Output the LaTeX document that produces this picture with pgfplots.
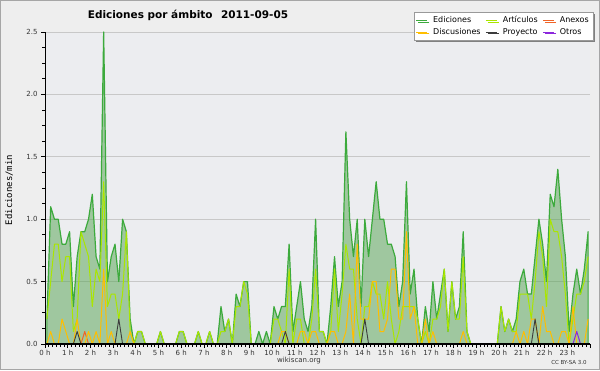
\documentclass[border=0pt]{standalone}
\usepackage{pgfplots}
\usepackage{pgfplotstable}
\pgfplotsset{compat=1.18}
\usepackage{fontspec}
\setmainfont{DejaVu Sans}
\setmonofont{DejaVu Sans Mono}
\usetikzlibrary{shadows}
\definecolor{bgout}{RGB}{238,238,238}
\definecolor{bgplot}{RGB}{236,237,240}
\definecolor{edline}{RGB}{60,170,60}
\definecolor{edfill}{RGB}{84,163,80}
\definecolor{artc}{RGB}{170,230,0}
\definecolor{disc}{RGB}{255,190,0}
\definecolor{proy}{RGB}{60,60,60}
\definecolor{anex}{RGB}{240,100,40}
\definecolor{otro}{RGB}{140,40,220}
\definecolor{gridc}{RGB}{200,200,200}

\pgfplotsset{
  layers/mylayers/.define layer set={axis background,axis grid,main,axis ticks,axis lines,axis tick labels,axis descriptions,axis foreground}{},
}

% 10-minute intervals, rows 0..143
\pgfplotstableread{
E A D P X O
0.2 0.2 0 0 0 0
1.1 0.5 0.1 0 0 0
1.0 0.8 0 0 0 0
1.0 0.8 0 0 0 0
0.8 0.5 0.2 0 0 0
0.8 0.7 0.1 0 0 0
0.9 0.7 0 0 0 0
0.3 0.1 0 0 0 0
0.7 0.2 0.2 0.1 0 0
0.9 0.9 0 0 0 0
0.9 0.8 0 0 0.1 0
1.0 0.7 0.1 0 0 0
1.2 0.3 0 0 0 0
0.7 0.6 0.1 0 0 0
0.6 0.5 0 0 0 0
2.5 1.3 0.6 0 0 0
0.5 0.3 0 0 0 0
0.7 0.4 0.1 0 0 0
0.8 0.4 0 0 0 0
0.5 0.2 0 0.2 0 0
1.0 0.4 0 0 0 0
0.9 0.9 0 0 0 0
0.2 0.1 0.1 0 0 0
0 0 0 0 0 0
0.1 0.1 0 0 0 0
0.1 0.1 0 0 0 0
0 0 0 0 0 0
0 0 0 0 0 0
0 0 0 0 0 0
0 0 0 0 0 0
0.1 0.1 0 0 0 0
0 0 0 0 0 0
0 0 0 0 0 0
0 0 0 0 0 0
0 0 0 0 0 0
0.1 0.1 0 0 0 0
0.1 0.1 0 0 0 0
0 0 0 0 0 0
0 0 0 0 0 0
0 0 0 0 0 0
0.1 0.1 0 0 0 0
0 0 0 0 0 0
0 0 0 0 0 0
0.1 0.1 0 0 0 0
0 0 0 0 0 0
0 0 0 0 0 0
0.3 0.1 0 0 0 0
0.1 0.1 0 0 0 0
0.2 0.2 0 0 0 0
0 0 0 0 0 0
0.4 0.3 0 0 0 0
0.3 0.3 0 0 0 0
0.5 0.5 0 0 0 0
0.5 0.4 0 0 0 0
0 0 0 0 0 0
0 0 0 0 0 0
0.1 0 0 0 0 0
0 0 0 0 0 0
0.1 0 0 0 0 0
0 0 0 0 0 0
0.3 0.2 0 0 0 0
0.2 0.2 0 0 0 0
0.3 0.1 0.1 0 0 0
0.3 0 0.1 0.1 0 0
0.8 0.6 0 0 0 0
0.1 0 0 0 0 0
0.3 0.2 0 0 0 0
0.5 0.2 0.1 0 0 0
0.2 0 0.1 0 0 0
0.1 0 0 0 0 0
0.3 0.2 0.1 0 0 0
1.0 0.6 0.1 0 0 0
0.1 0.1 0 0 0 0
0.1 0.1 0 0 0 0
0 0 0 0 0 0
0.3 0.1 0.1 0 0 0
0.7 0.6 0.1 0 0 0
0.3 0.1 0 0 0 0
0.5 0.4 0 0 0 0
1.7 0.8 0.1 0 0 0
1.0 0.6 0.4 0 0 0
0.7 0.6 0 0 0 0
1.0 0.2 0.8 0 0 0
0.3 0 0.2 0 0 0
1.0 0.3 0.2 0.2 0 0
0.7 0.3 0.2 0 0 0
1.0 0.5 0.5 0 0 0
1.3 0.4 0.5 0 0 0
1.0 0.4 0.1 0 0 0
1.0 0.2 0.1 0 0 0
0.8 0.5 0.2 0 0 0
0.8 0.2 0.6 0 0 0
0.7 0 0.6 0 0 0
0.3 0.1 0.2 0 0 0
0.5 0.3 0.2 0 0 0
1.3 0.3 0.9 0 0 0
0.4 0.3 0.2 0 0 0
0.6 0.3 0.3 0 0 0
0.2 0.2 0 0 0 0
0 0 0 0 0 0
0.3 0.1 0.2 0 0 0
0.1 0 0 0 0 0
0.5 0.2 0.1 0 0 0
0.2 0.2 0 0 0 0
0.4 0.3 0 0 0 0
0.6 0.6 0 0 0 0
0.1 0.1 0 0 0 0
0.5 0.5 0 0 0 0
0.2 0.2 0 0 0 0
0.3 0.2 0 0 0 0
0.9 0.7 0.1 0 0 0
0.1 0.1 0 0 0 0
0 0 0 0 0 0
0 0 0 0 0 0
0 0 0 0 0 0
0 0 0 0 0 0
0 0 0 0 0 0
0 0 0 0 0 0
0 0 0 0 0 0
0 0 0 0 0 0
0.3 0.3 0 0 0 0
0.1 0.1 0 0 0 0
0.2 0.2 0 0 0 0
0.1 0.1 0 0 0 0
0.2 0.1 0.1 0 0 0
0.5 0.4 0 0 0 0
0.6 0.4 0.1 0 0 0
0.4 0.4 0 0 0 0
0.4 0.2 0.2 0 0 0
0.7 0.5 0.2 0.2 0 0
1.0 0.9 0 0 0 0
0.8 0.7 0.3 0 0 0
0.5 0.3 0.1 0 0 0
1.2 1.0 0.1 0 0 0
1.1 0.9 0 0 0 0
1.4 0.9 0 0 0 0
1.0 0.7 0.1 0 0 0
0.7 0.4 0.1 0 0 0
0.1 0 0 0 0 0
0.4 0.2 0.3 0 0 0
0.6 0.4 0 0 0 0.1
0.4 0.4 0 0 0 0
0.6 0.5 0 0 0 0
0.9 0.7 0.2 0 0 0
}\datatable

\begin{document}
\begin{tikzpicture}[x=1pt,y=1pt]
\fill[bgout] (0,0) rectangle (600,370);
\draw[black!35, line width=1pt] (0.5,0.5) rectangle (599.5,369.5);
\node[font=\fontsize{10.5}{12}\selectfont\bfseries] at (188,355) {Ediciones por ámbito\hspace{0.8em}2011-09-05};
\node[font=\ttfamily\fontsize{9}{10}\selectfont, rotate=90] at (9,180) {Ediciones/min};
\node[font=\fontsize{7}{8}\selectfont, text=black!80] at (299,9) {wikiscan.org};
\node[font=\fontsize{5.5}{7}\selectfont, text=black!80] at (569,8) {CC BY-SA 3.0};
\begin{axis}[
  set layers=mylayers,
  at={(45pt,26pt)}, anchor=south west,
  width=545pt, height=312pt, scale only axis,
  xmin=0, xmax=24, ymin=0, ymax=2.5,
  clip=false,
  axis x line*=bottom, axis y line*=left,
  axis line style={-, black, line width=0.9pt},
  x axis line style={line width=1.3pt},
  xtick={0,...,24},
  xticklabels={0 h,1 h,2 h,3 h,4 h,5 h,6 h,7 h,8 h,9 h,10 h,11 h,12 h,13 h,14 h,15 h,16 h,17 h,18 h,19 h,20 h,21 h,22 h,23 h,{}},
  minor x tick num=5,
  ytick={0,0.5,1,1.5,2,2.5},
  minor y tick num=3,
  tick align=outside,
  major tick length=4pt, minor tick length=3pt,
  tick style={black, line width=0.8pt},
  ymajorgrids, grid style={gridc, line width=0.8pt},
  axis background/.style={fill=bgplot},
  /pgf/number format/assume math mode=true,
  yticklabel style={/pgf/number format/.cd, fixed, fixed zerofill, precision=1, /tikz/.cd, font=\fontsize{7}{8}\selectfont, text=black!80},
  xticklabel style={font=\fontsize{7}{8}\selectfont, text=black!80, yshift=1pt},
  legend columns=3,
  legend cell align=left,
  legend image code/.code={\draw[#1, fill=none, line width=0.7pt] (0pt,0pt) -- (11pt,0pt);},
  legend style={at={(1.0055,1.064)}, anchor=north east, draw=black!40, fill=white,
    font=\fontsize{8}{9}\selectfont, inner sep=2pt, row sep=0pt,
    /tikz/every odd column/.append style={column sep=3.5pt},
    /tikz/every even column/.append style={column sep=3pt},
    drop shadow={shadow xshift=2pt, shadow yshift=-2pt, fill=black!50, opacity=1}},
]
\addplot[draw=edline, line width=1.2pt, line join=round, fill=edfill, fill opacity=0.5]
  table[x expr=(\coordindex+0.5)/6, y=E]{\datatable} \closedcycle;
\addlegendentry{Ediciones}
\addplot[draw=artc, line width=1pt, line join=round]
  table[x expr=(\coordindex+0.5)/6, y=A]{\datatable};
\addlegendentry{Artículos}
\addplot[draw=anex, line width=1pt, line join=round]
  table[x expr=(\coordindex+0.5)/6, y=X]{\datatable};
\addlegendentry{Anexos}
\addplot[draw=disc, line width=1pt, line join=round]
  table[x expr=(\coordindex+0.5)/6, y=D]{\datatable};
\addlegendentry{Discusiones}
\addplot[draw=proy, line width=0.9pt, line join=round]
  table[x expr=(\coordindex+0.5)/6, y=P]{\datatable};
\addlegendentry{Proyecto}
\addplot[draw=otro, line width=1pt, line join=round]
  table[x expr=(\coordindex+0.5)/6, y=O]{\datatable};
\addlegendentry{Otros}
\draw[black, line width=1.6pt] (axis cs:0,0) -- (axis cs:24,0);
\end{axis}
\end{tikzpicture}
\end{document}
